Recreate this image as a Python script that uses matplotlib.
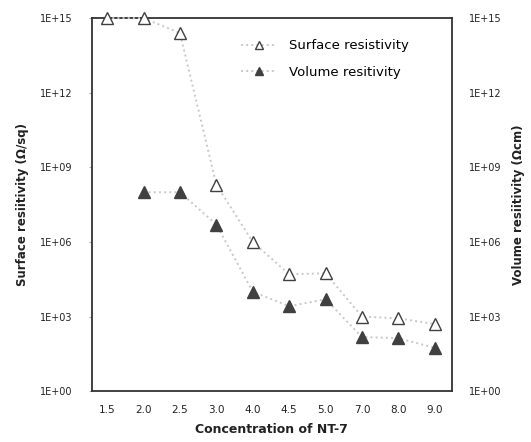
import numpy as np
import matplotlib.pyplot as plt
from matplotlib.ticker import FixedLocator

# Data
concentrations = ["1.5", "2.0", "2.5", "3.0", "4.0", "4.5", "5.0", "7.0", "8.0", "9.0"]
surface = [1e15, 1e15, 2.5e14, 2e8, 1e6, 5e4, 5.5e4, 1e3, 8.5e2, 5e2]
volume = [np.nan, 1e8, 1e8, 5e6, 1e4, 2.6e3, 5e3, 150, 135, 55]
y_ticks = [1e0, 1e3, 1e6, 1e9, 1e12, 1e15]
y_tick_labels = ["1E+00", "1E+03", "1E+06", "1E+09", "1E+12", "1E+15"]

plt.rcParams["font.family"] = "DejaVu Sans"

fig = plt.figure(figsize=(5.31, 4.42), dpi=100)
ax = fig.add_axes([0.173, 0.115, 0.678, 0.844])

x = np.arange(len(concentrations))

# Surface resistivity: open triangles
ax.plot(x, surface, linestyle=":", color="#c8c8c8", linewidth=1.4,
        marker="^", markersize=9, markerfacecolor="white",
        markeredgecolor="#404040", markeredgewidth=1.0,
        label="Surface resistivity", clip_on=False, zorder=3)

# Volume resistivity: filled triangles
ax.plot(x, volume, linestyle=":", color="#c8c8c8", linewidth=1.4,
        marker="^", markersize=8, markerfacecolor="#404040",
        markeredgecolor="#404040",
        label="Volume resitivity", clip_on=False, zorder=3)

ax.set_yscale("log")
ax.set_ylim(1e0, 1e15)
ax.set_xlim(-0.42, 9.47)
ax.yaxis.set_minor_locator(FixedLocator([]))
ax.set_yticks(y_ticks)
ax.set_yticklabels(y_tick_labels, fontsize=7, color="#222222")
ax.set_xticks(x)
ax.set_xticklabels(concentrations, fontsize=7.5, color="#222222")
ax.tick_params(axis="x", length=0, pad=10)
ax.tick_params(axis="y", length=2, pad=12, color="#aaaaaa")

for s in ax.spines.values():
    s.set_linewidth(1.3)
    s.set_color("#333333")

ax.set_xlabel("Concentration of NT-7", fontsize=9, fontweight="bold",
              labelpad=6, color="#222222")
ax.set_ylabel("Surface resiitivity (\u03a9/sq)", fontsize=8.5, fontweight="bold",
              labelpad=8, color="#222222")

# Right axis mirrors the left one
ax2 = ax.twinx()
ax2.set_yscale("log")
ax2.set_ylim(ax.get_ylim())
ax2.yaxis.set_minor_locator(FixedLocator([]))
ax2.set_yticks(y_ticks)
ax2.set_yticklabels(y_tick_labels, fontsize=7, color="#222222")
ax2.tick_params(axis="y", length=0, pad=12)
ax2.set_ylabel("Volume resiitivity (\u03a9cm)", fontsize=8.5, fontweight="bold",
               labelpad=8, color="#222222")
for s in ax2.spines.values():
    s.set_visible(False)

ax.legend(loc="upper left", bbox_to_anchor=(0.38, 0.975), frameon=False,
          fontsize=9.5, handlelength=2.8, handletextpad=0.9, labelspacing=1.0,
          markerscale=0.7)

plt.savefig("out.png", dpi=100)
